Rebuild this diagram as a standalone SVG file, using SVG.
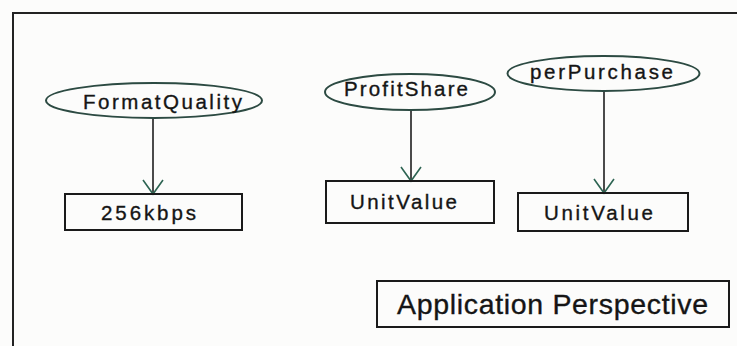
<svg xmlns="http://www.w3.org/2000/svg" width="737" height="346" viewBox="0 0 737 346">
  <style>
    .bg { fill: #fcfcfb; }
    .frame { fill: none; stroke: #222; stroke-width: 2; }
    .concept { fill: none; stroke: #2c4a42; stroke-width: 2; }
    .value { fill: none; stroke: #1a1a1a; stroke-width: 2; }
    .label { font-family: "Liberation Sans", Arial, sans-serif; font-size: 20.5px; fill: #151515; stroke: #151515; stroke-width: 0.35; }
    .title { font-family: "Liberation Sans", Arial, sans-serif; font-size: 28.5px; fill: #151515; stroke: #151515; stroke-width: 0.35; }
    .link { fill: none; stroke: #111; stroke-width: 1.5; marker-end: url(#vee); }
  </style>
  <defs>
    <marker id="vee" markerUnits="userSpaceOnUse" markerWidth="18" markerHeight="24" refX="15" refY="11" orient="auto" viewBox="0 0 18 24">
      <path d="M1,1 L15,11 L1,21" fill="none" stroke="#2d6452" stroke-width="1.6"/>
    </marker>
  </defs>

  <rect class="bg" x="0" y="0" width="737" height="346"/>
  <!-- outer panel border (top and left edges) -->
  <path class="frame" d="M13,346 L13,13 L737,13"/>

  <g id="connectors">
    <line class="link" x1="153" y1="118" x2="153" y2="194"/>
    <line class="link" x1="411" y1="110" x2="411" y2="181"/>
    <line class="link" x1="604" y1="91" x2="604" y2="193"/>
  </g>

  <g id="formatQuality">
    <ellipse class="concept" cx="154" cy="100.5" rx="108" ry="17.5"/>
    <text class="label" x="83" y="109" textLength="159" lengthAdjust="spacing">FormatQuality</text>
  </g>
  <g id="kbps256">
    <rect class="value" x="65" y="194" width="177" height="36"/>
    <text class="label" x="101" y="220" textLength="95" lengthAdjust="spacing">256kbps</text>
  </g>

  <g id="profitShare">
    <ellipse class="concept" cx="410" cy="92" rx="85" ry="18"/>
    <text class="label" x="344" y="96" textLength="124" lengthAdjust="spacing">ProfitShare</text>
  </g>
  <g id="unitValue1">
    <rect class="value" x="326" y="181" width="168" height="42"/>
    <text class="label" x="350" y="209" textLength="107" lengthAdjust="spacing">UnitValue</text>
  </g>

  <g id="perPurchase">
    <ellipse class="concept" cx="603.5" cy="73.5" rx="96" ry="17.5"/>
    <text class="label" x="530" y="79" textLength="143" lengthAdjust="spacing">perPurchase</text>
  </g>
  <g id="unitValue2">
    <rect class="value" x="518" y="193" width="170" height="38"/>
    <text class="label" x="544" y="220" textLength="109" lengthAdjust="spacing">UnitValue</text>
  </g>

  <g id="applicationPerspective">
    <rect class="value" x="377" y="281" width="352" height="46"/>
    <text class="title" x="397" y="314" textLength="311" lengthAdjust="spacing">Application Perspective</text>
  </g>
</svg>
